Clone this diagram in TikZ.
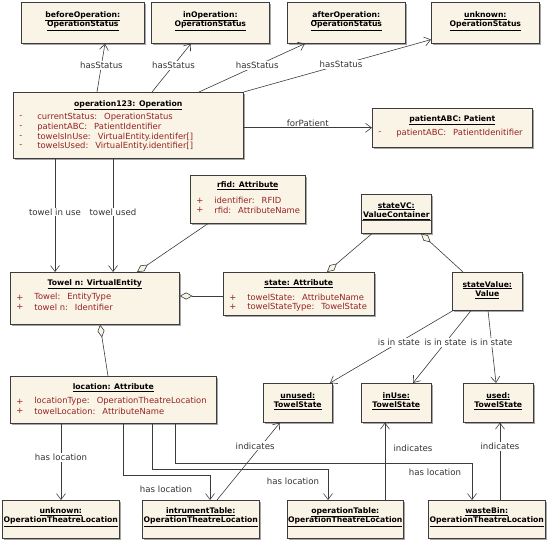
\documentclass[tikz,border=0pt]{standalone}
\usepackage{fontspec}
\setmainfont{DejaVu Sans}
\usetikzlibrary{calc}
\usetikzlibrary{positioning}
\usetikzlibrary{shadows}
\usetikzlibrary{arrows.meta}
\definecolor{boxfill}{RGB}{250,244,230}
\definecolor{attrred}{RGB}{150,35,35}
\definecolor{edgegray}{RGB}{60,60,60}
\newcommand\twoline[2]{\underline{#1}\\\underline{#2}}
\newcommand\gap{\hspace{7pt}}

\begin{document}
\begin{tikzpicture}[x=1pt,y=-1pt,line width=0.6pt]
  \tikzstyle{obj}=[draw=edgegray, fill=boxfill, anchor=north west, inner sep=0pt,
    drop shadow={shadow xshift=2pt,shadow yshift=-2pt,fill=black!50,opacity=0.7}]
  \tikzstyle{ttl}=[font=\fontsize{7.7}{9.5}\selectfont\bfseries, align=center, inner sep=0pt]
  \tikzstyle{att}=[font=\fontsize{8.4}{9.7}\selectfont, text=attrred, anchor=west, inner sep=0pt]
  \tikzstyle{lbl}=[font=\fontsize{8.6}{9.7}\selectfont, text=black!80, fill=white, inner sep=1pt]
  \tikzstyle{nav}=[draw=edgegray, -{Straight Barb[length=6pt,width=9pt]}]
  \tikzstyle{agg}=[draw=edgegray, {Diamond[length=13pt,width=7pt,fill=boxfill]}-]
  \useasboundingbox (0,0) rectangle (550,543);

  % object boxes
  \foreach \x/\y/\w/\h/\name in {21/2/123/41/before, 151/2/118/41/inop, 287/2/118/41/after,
      431/2/108/41/unkst, 13/92/230/66/op, 372/108/160/39/patient, 190/175/115/48/rfid,
      361/194/70/39/vc, 10/272/169/52/towel, 223/272/151/43/state, 452/272/70/38/sval,
      10/376/206/47/loc, 263/383/69/39/unused, 361/383/70/39/inuse, 463/383/70/39/used,
      2/500/117/38/unkloc, 142/500/117/38/instr, 287/500/116/38/optab, 428/500/117/38/waste}
    \node[obj, minimum width=\w pt, minimum height=\h pt] (\name) at (\x,\y) {};
  \draw[edgegray] ($(vc.north west)+(0,26)$) -- ($(vc.north east)+(0,26)$);

  % titles
  \node[ttl] (before-t) at ($(before.north)+(0,19)$) {\twoline{beforeOperation:}{OperationStatus}};
  \node[ttl] (inop-t) at ($(inop.north)+(0,19)$) {\twoline{inOperation:}{OperationStatus}};
  \node[ttl] (after-t) at ($(after.north)+(0,19)$) {\twoline{afterOperation:}{OperationStatus}};
  \node[ttl] (unkst-t) at ($(unkst.north)+(0,19)$) {\twoline{unknown:}{OperationStatus}};
  \node[ttl] (op-t) at ($(op.north)+(0,13)$) {\underline{operation123: Operation}};
  \node[ttl] (patient-t) at ($(patient.north)+(0,12)$) {\underline{patientABC: Patient}};
  \node[ttl] (rfid-t) at ($(rfid.north)+(0,11)$) {\underline{rfid: Attribute}};
  \node[ttl] (vc-t) at ($(vc.north)+(0,17)$) {\twoline{stateVC:}{ValueContainer}};
  \node[ttl] (towel-t) at ($(towel.north)+(0,12)$) {\underline{Towel n: VirtualEntity}};
  \node[ttl] (state-t) at ($(state.north)+(0,12)$) {\underline{state: Attribute}};
  \node[ttl] (sval-t) at ($(sval.north)+(0,18)$) {\twoline{stateValue:}{Value}};
  \node[ttl] (loc-t) at ($(loc.north)+(0,12)$) {\underline{location: Attribute}};
  \node[ttl] (unused-t) at ($(unused.north)+(0,18)$) {\twoline{unused:}{TowelState}};
  \node[ttl] (inuse-t) at ($(inuse.north)+(0,18)$) {\twoline{inUse:}{TowelState}};
  \node[ttl] (used-t) at ($(used.north)+(0,18)$) {\twoline{used:}{TowelState}};
  \node[ttl] (unkloc-t) at ($(unkloc.north)+(0,17)$) {\twoline{unknown:}{OperationTheatreLocation}};
  \node[ttl] (instr-t) at ($(instr.north)+(0,17)$) {\twoline{intrumentTable:}{OperationTheatreLocation}};
  \node[ttl] (optab-t) at ($(optab.north)+(0,17)$) {\twoline{operationTable:}{OperationTheatreLocation}};
  \node[ttl] (waste-t) at ($(waste.north)+(0,17)$) {\twoline{wasteBin:}{OperationTheatreLocation}};

  % attributes
  \foreach \name/\i/\m/\t in {op/0/-/currentStatus:\gap OperationStatus,
      op/1/-/patientABC:\gap PatientIdentifier, op/2/-/towelsInUse:\gap VirtualEntity.identifer[],
      op/3/-/towelsUsed:\gap VirtualEntity.identifier[], patient/0/-/patientABC:\gap PatientIdenitifier,
      rfid/0/+/identifier:\gap RFID, rfid/1/+/rfid:\gap AttributeName,
      towel/0/+/Towel:\gap EntityType, towel/1/+/towel n:\gap Identifier,
      state/0/+/towelState:\gap AttributeName, state/1/+/towelStateType:\gap TowelState,
      loc/0/+/locationType:\gap OperationTheatreLocation, loc/1/+/towelLocation:\gap AttributeName}
  {
    \node[att] at ($(\name.north west)+(6,25.5+9.7*\i)$) {\m};
    \node[att] at ($(\name.north west)+(24,25.5+9.7*\i)$) {\t};
  }

  % hasStatus
  \draw[nav] ($(op.north west)+(84,0)$) -- ($(before.south west)+(84,0)$) node[lbl, pos=0.55] {hasStatus};
  \draw[nav] ($(op.north west)+(139,0)$) -- ($(inop.south west)+(40,0)$) node[lbl, pos=0.55] {hasStatus};
  \draw[nav] ($(op.north west)+(186,0)$) -- ($(after.south west)+(18,0)$) node[lbl, pos=0.55] {hasStatus};
  \draw[nav] (op.north east) -- ($(unkst.south west)+(0,-4)$) node[lbl, pos=0.52] {hasStatus};
  \draw[nav] (op.east |- patient.west) -- (patient.west) node[lbl, above, pos=0.5, fill=none] {forPatient};

  % towels
  \draw[nav] ($(op.south west)+(42,0)$) -- ($(towel.north west)+(45,0)$) node[lbl, pos=0.47] {towel in use};
  \draw[nav] ($(op.south west)+(100,0)$) -- ($(towel.north west)+(103,0)$) node[lbl, pos=0.47] {towel used};

  % aggregations
  \draw[agg] ($(towel.north west)+(127,0)$) -- ($(rfid.south west)+(18,0)$);
  \draw[agg] ($(towel.north east)+(0,24)$) -- ($(state.north west)+(0,24)$);
  \draw[agg] ($(state.north west)+(104,0)$) -- ($(vc.south west)+(11,0)$);
  \draw[agg] ($(vc.south west)+(60,0)$) -- ($(sval.north west)+(11,0)$);
  \draw[agg] ($(towel.south west)+(90,0)$) -- ($(loc.north west)+(98,0)$);

  % is in state
  \draw[nav] ($(sval.south west)+(1,0)$) -- ($(unused.north west)+(67,0)$) node[lbl, pos=0.44] {is in state};
  \draw[nav] ($(sval.south west)+(19,0)$) -- ($(inuse.north west)+(52,0)$) node[lbl, pos=0.44] {is in state};
  \draw[nav] ($(sval.south west)+(36,0)$) -- ($(used.north west)+(33,0)$) node[lbl, pos=0.44] {is in state};

  % has location
  \draw[nav] ($(loc.south west)+(51,0)$) -- ($(unkloc.north west)+(59,0)$) node[lbl, pos=0.44] {has location};
  \draw[nav] ($(loc.south west)+(113,0)$) -- ++(0,52) -| ($(instr.north west)+(68,0)$)
    node[lbl, pos=0.78, xshift=-44pt] {has location};
  \draw[nav] ($(loc.south west)+(142,0)$) -- ++(0,46) -| ($(optab.north west)+(41,0)$)
    node[lbl, pos=0.69, xshift=-35pt] {has location};
  \draw[nav] ($(loc.south west)+(165,0)$) -- ++(0,40) -| ($(waste.north west)+(44,0)$)
    node[lbl, pos=0.62, xshift=-37pt] {has location};

  % indicates
  \draw[nav] ($(instr.north west)+(75,0)$) -- ($(unused.south west)+(17,0)$) node[lbl, pos=0.7, xshift=-6pt] {indicates};
  \draw[nav] ($(optab.north west)+(98,0)$) -- ($(inuse.south west)+(24,0)$) node[lbl, pos=0.67, xshift=28pt] {indicates};
  \draw[nav] ($(waste.north west)+(72,0)$) -- ($(used.south west)+(37,0)$) node[lbl, pos=0.69] {indicates};
\end{tikzpicture}
\end{document}
